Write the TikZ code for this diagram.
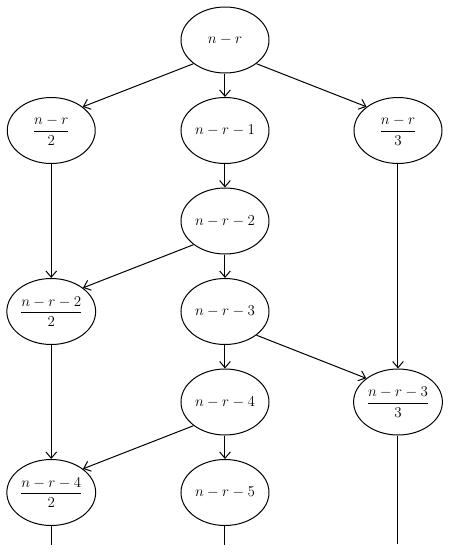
\documentclass[tikz,border=0pt]{standalone}
\usepackage{amsmath}
\usepackage{tikz}
\usetikzlibrary{shapes,shapes.geometric,arrows,arrows.meta,calc,positioning}
\tikzset{state/.style={draw,ellipse}}

\begin{document}
\begin{tikzpicture}[>={Straight Barb[length=5pt,width=8.5pt]}, thick, node distance=72.4pt, font=\large]
\useasboundingbox (-180pt,32pt) rectangle (180pt,-416pt);
\tikzset{every node/.append style={inner sep=0pt, minimum width=70.4pt, minimum height=52.8pt}}
\node[state] (Q0){$n-r$};
\node[state][below of =Q0] (Q1){$n-r-1$};
\node[state, node distance=139pt][left of =Q1] (Q1a){$\dfrac{n-r}{2}$};
\node[state, node distance=138.4pt][right of =Q1] (Q1b){$\dfrac{n-r}{3}$};
\node[state][below of =Q1] (Q2){$n-r-2$};
\node[state][below of =Q2] (Q3){$n-r-3$};
\node[state, node distance=139pt][left of =Q3] (Q3a){$\dfrac{n-r-2}{2}$};
\node[state][below of =Q3] (Q4){$n-r-4$};
\node[state, node distance=138.4pt][right of =Q4] (Q4b){$\dfrac{n-r-3}{3}$};
\node[state][below of =Q4] (Q5){$n-r-5$};
\node[state, node distance=139pt][left of =Q5] (Q5a){$\dfrac{n-r-4}{2}$};

% loose ends at the bottom
\coordinate (E5) at ($(Q5)+(0,-41.6pt)$);
\coordinate (E5a) at ($(Q5a)+(0,-41.6pt)$);
\coordinate (E4b) at ($(Q4b)+(0,-113.6pt)$);

\path[->](Q0.south west) edge (Q1a.north east)
(Q0) edge (Q1)
(Q0.south east) edge (Q1b.north west)
(Q1) edge (Q2)
(Q1a) edge (Q3a)
(Q1b) edge (Q4b)
(Q2.south west) edge (Q3a.north east)
(Q2) edge (Q3)
(Q3) edge (Q4)
(Q3.south east) edge (Q4b.north west)
(Q3a) edge (Q5a)
(Q4.south west) edge (Q5a.north east)
(Q4) edge (Q5)
;
\draw (Q5a) -- (E5a);
\draw (Q5) -- (E5);
\draw (Q4b) -- (E4b);
\end{tikzpicture}
\end{document}
